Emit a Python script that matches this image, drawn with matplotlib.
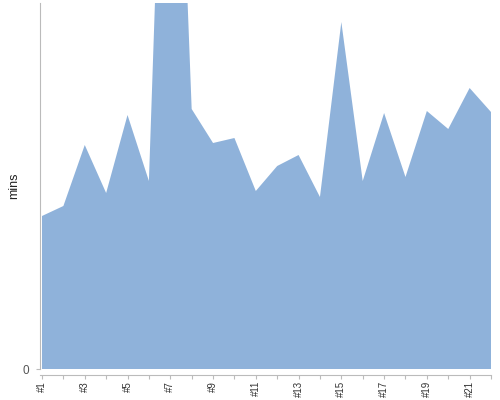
import numpy as np
import matplotlib
matplotlib.use("Agg")
import matplotlib.pyplot as plt

# datos
categorias = ["#%d" % i for i in range(1, 23)]
minutos = [15.3, 16.3, 22.4, 17.6, 25.4, 18.8, 81.9, 26.0, 22.6, 23.1, 17.8,
           20.3, 21.4, 17.2, 34.7, 18.8, 25.6, 19.2, 25.8, 24.0, 28.1, 25.7]
etiquetas = [c if i % 2 == 0 else "" for i, c in enumerate(categorias)]

plt.rcParams['font.family'] = ['Liberation Sans', 'DejaVu Sans']

x = np.arange(1, len(minutos) + 1)

fig = plt.figure(figsize=(5, 4), dpi=100)
ax = fig.add_axes([0.08, 0.0775, 0.902, 0.915])

ax.fill_between(x, 0, minutos, color="#8fb2da", linewidth=0)

ax.set_xlim(1 - 2 / 21.38, 22)
ax.set_ylim(0, 36.6)

ax.set_xticks(x)
ax.set_xticklabels(etiquetas)
ax.set_yticks([0])
ax.set_yticklabels(["0"])
ax.set_ylabel("mins", fontsize=9, color="#222222")
ax.yaxis.set_label_coords(-0.045, 0.5)

for s in ["top", "right"]:
    ax.spines[s].set_visible(False)
ax.spines["left"].set_color("#bbbbbb")
ax.spines["bottom"].set_color("#bbbbbb")
ax.spines["bottom"].set_position(("outward", 4))
ax.tick_params(axis="x", length=3, color="#bbbbbb", pad=1.5, labelrotation=90,
               labelsize=7, labelcolor="#333333")
ax.tick_params(axis="y", length=3, color="#bbbbbb", pad=5,
               labelsize=8.5, labelcolor="#555555")

fig.savefig("out.png", dpi=100)
